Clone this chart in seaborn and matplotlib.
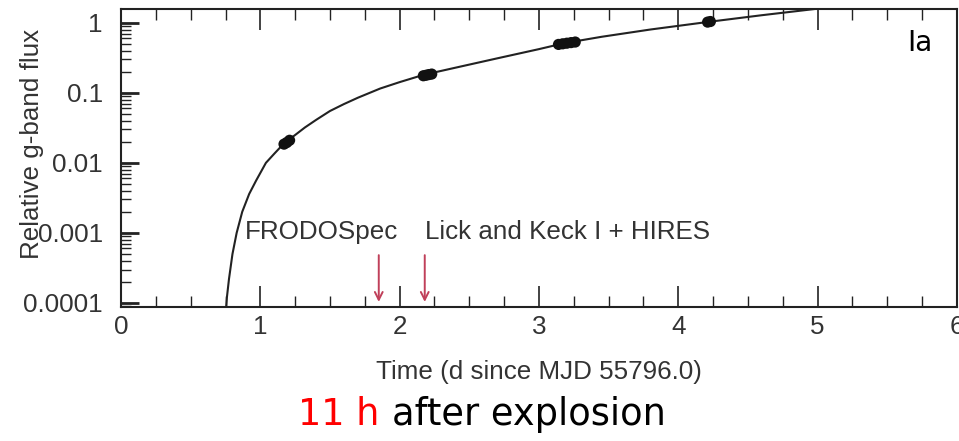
import numpy as np
import pandas as pd
import matplotlib
matplotlib.use("Agg")
import matplotlib.pyplot as plt
import seaborn as sns
from matplotlib.ticker import MultipleLocator, LogLocator, NullFormatter

# ---- data ----
curve_t = [0.755, 0.76, 0.775, 0.80, 0.83, 0.87, 0.92, 0.97, 1.04, 1.10, 1.17,
           1.25, 1.32, 1.40, 1.50, 1.60, 1.70, 1.86, 2.00, 2.17, 2.45, 2.70,
           3.00, 3.18, 3.45, 3.80, 4.22, 4.60, 4.98]
curve_f = [8.8e-5, 1.2e-4, 2.2e-4, 5.0e-4, 1.0e-3, 2.0e-3, 3.6e-3, 5.6e-3,
           1.0e-2, 1.35e-2, 1.9e-2, 2.5e-2, 3.2e-2, 4.1e-2, 5.5e-2, 6.9e-2,
           8.5e-2, 0.115, 0.142, 0.18, 0.24, 0.31, 0.42, 0.51, 0.63, 0.80,
           1.03, 1.28, 1.57]

obs_t = [1.17, 1.19, 1.21, 2.17, 2.19, 2.21, 2.23,
         3.14, 3.17, 3.20, 3.23, 3.26, 4.21, 4.23]
obs_f = [0.0185, 0.0195, 0.021, 0.175, 0.178, 0.182, 0.185,
         0.49, 0.50, 0.51, 0.52, 0.53, 1.02, 1.04]

spec_times = [1.85, 2.18]
spec_labels = ["FRODOSpec", "Lick and Keck I + HIRES"]
spec_label_t = [0.89, 2.18]

xticks = [0, 1, 2, 3, 4, 5, 6]
yticks = [1e-4, 1e-3, 1e-2, 1e-1, 1]
ytick_labels = ["0.0001", "0.001", "0.01", "0.1", "1"]

# ---- figure ----
sns.set_style("ticks")
plt.rcParams["font.family"] = ["Liberation Sans", "DejaVu Sans"]

W, H = 959, 441
fig = plt.figure(figsize=(W / 100, H / 100), dpi=100)
ax = fig.add_axes([121 / W, (H - 307) / H, (957 - 121) / W, (307 - 9) / H])
ax.set_yscale("log")

txtc = "#333333"
linec = "#222222"

sns.lineplot(x=curve_t, y=curve_f, ax=ax, color=linec, lw=1.5,
             estimator=None, sort=False)
sns.scatterplot(x=obs_t, y=obs_f, ax=ax, color="#111111", s=65,
                edgecolor="none", zorder=3)

ax.set_xlim(0, 6)
ax.set_ylim(10 ** (-4 - 4 / 70), 10 ** (13.7 / 70))

ax.set_xticks(xticks)
ax.set_xticklabels([str(v) for v in xticks])
ax.xaxis.set_minor_locator(MultipleLocator(0.25))
ax.set_yticks(yticks)
ax.set_yticklabels(ytick_labels)
ax.yaxis.set_minor_locator(LogLocator(base=10, subs=np.arange(2, 10)))
ax.yaxis.set_minor_formatter(NullFormatter())

fs = 18.7
ax.tick_params(axis="x", which="major", direction="in", length=15, width=1.2,
               top=True, bottom=True, labelsize=fs, pad=6,
               labelcolor=txtc, color=linec)
ax.tick_params(axis="x", which="minor", direction="in", length=8, width=1.0,
               top=True, bottom=True, color=linec)
ax.tick_params(axis="y", which="major", direction="in", length=13, width=2,
               left=True, right=False, labelsize=fs, pad=13,
               labelcolor=txtc, color=linec)
ax.tick_params(axis="y", which="minor", direction="in", length=7, width=1,
               left=True, right=False, color=linec)
for s in ax.spines.values():
    s.set_visible(True)
    s.set_linewidth(1.5)
    s.set_color(linec)

ax.set_xlabel("Time (d since MJD 55796.0)", fontsize=fs, color=txtc, labelpad=15)
ax.set_ylabel("Relative g-band flux", fontsize=fs, color=txtc)
ax.yaxis.set_label_coords(-0.092, 0.547)

for tl, lab in zip(spec_label_t, spec_labels):
    ax.text(tl, 0.252, lab, transform=ax.get_xaxis_transform(),
            fontsize=fs, color=txtc, ha="left", va="center")
for ts in spec_times:
    ax.annotate("", xy=(ts, 0.017), xytext=(ts, 0.174),
                xycoords=ax.get_xaxis_transform(),
                textcoords=ax.get_xaxis_transform(),
                arrowprops=dict(arrowstyle="->", color="#c0405a", lw=1.4,
                                mutation_scale=14, shrinkA=0, shrinkB=0))

ax.text(0.941, 0.859, "Ia", transform=ax.transAxes, fontsize=20,
        family="DejaVu Sans", color="black", ha="left", va="baseline")

fig.text(298 / W, (H - 425) / H, "11 h", color="red", fontsize=26.5,
         family="DejaVu Sans", ha="left", va="baseline")
fig.text(392 / W, (H - 425) / H, "after explosion", color="black",
         fontsize=26.5, family="DejaVu Sans", ha="left", va="baseline")

fig.savefig("out.png", dpi=100)
